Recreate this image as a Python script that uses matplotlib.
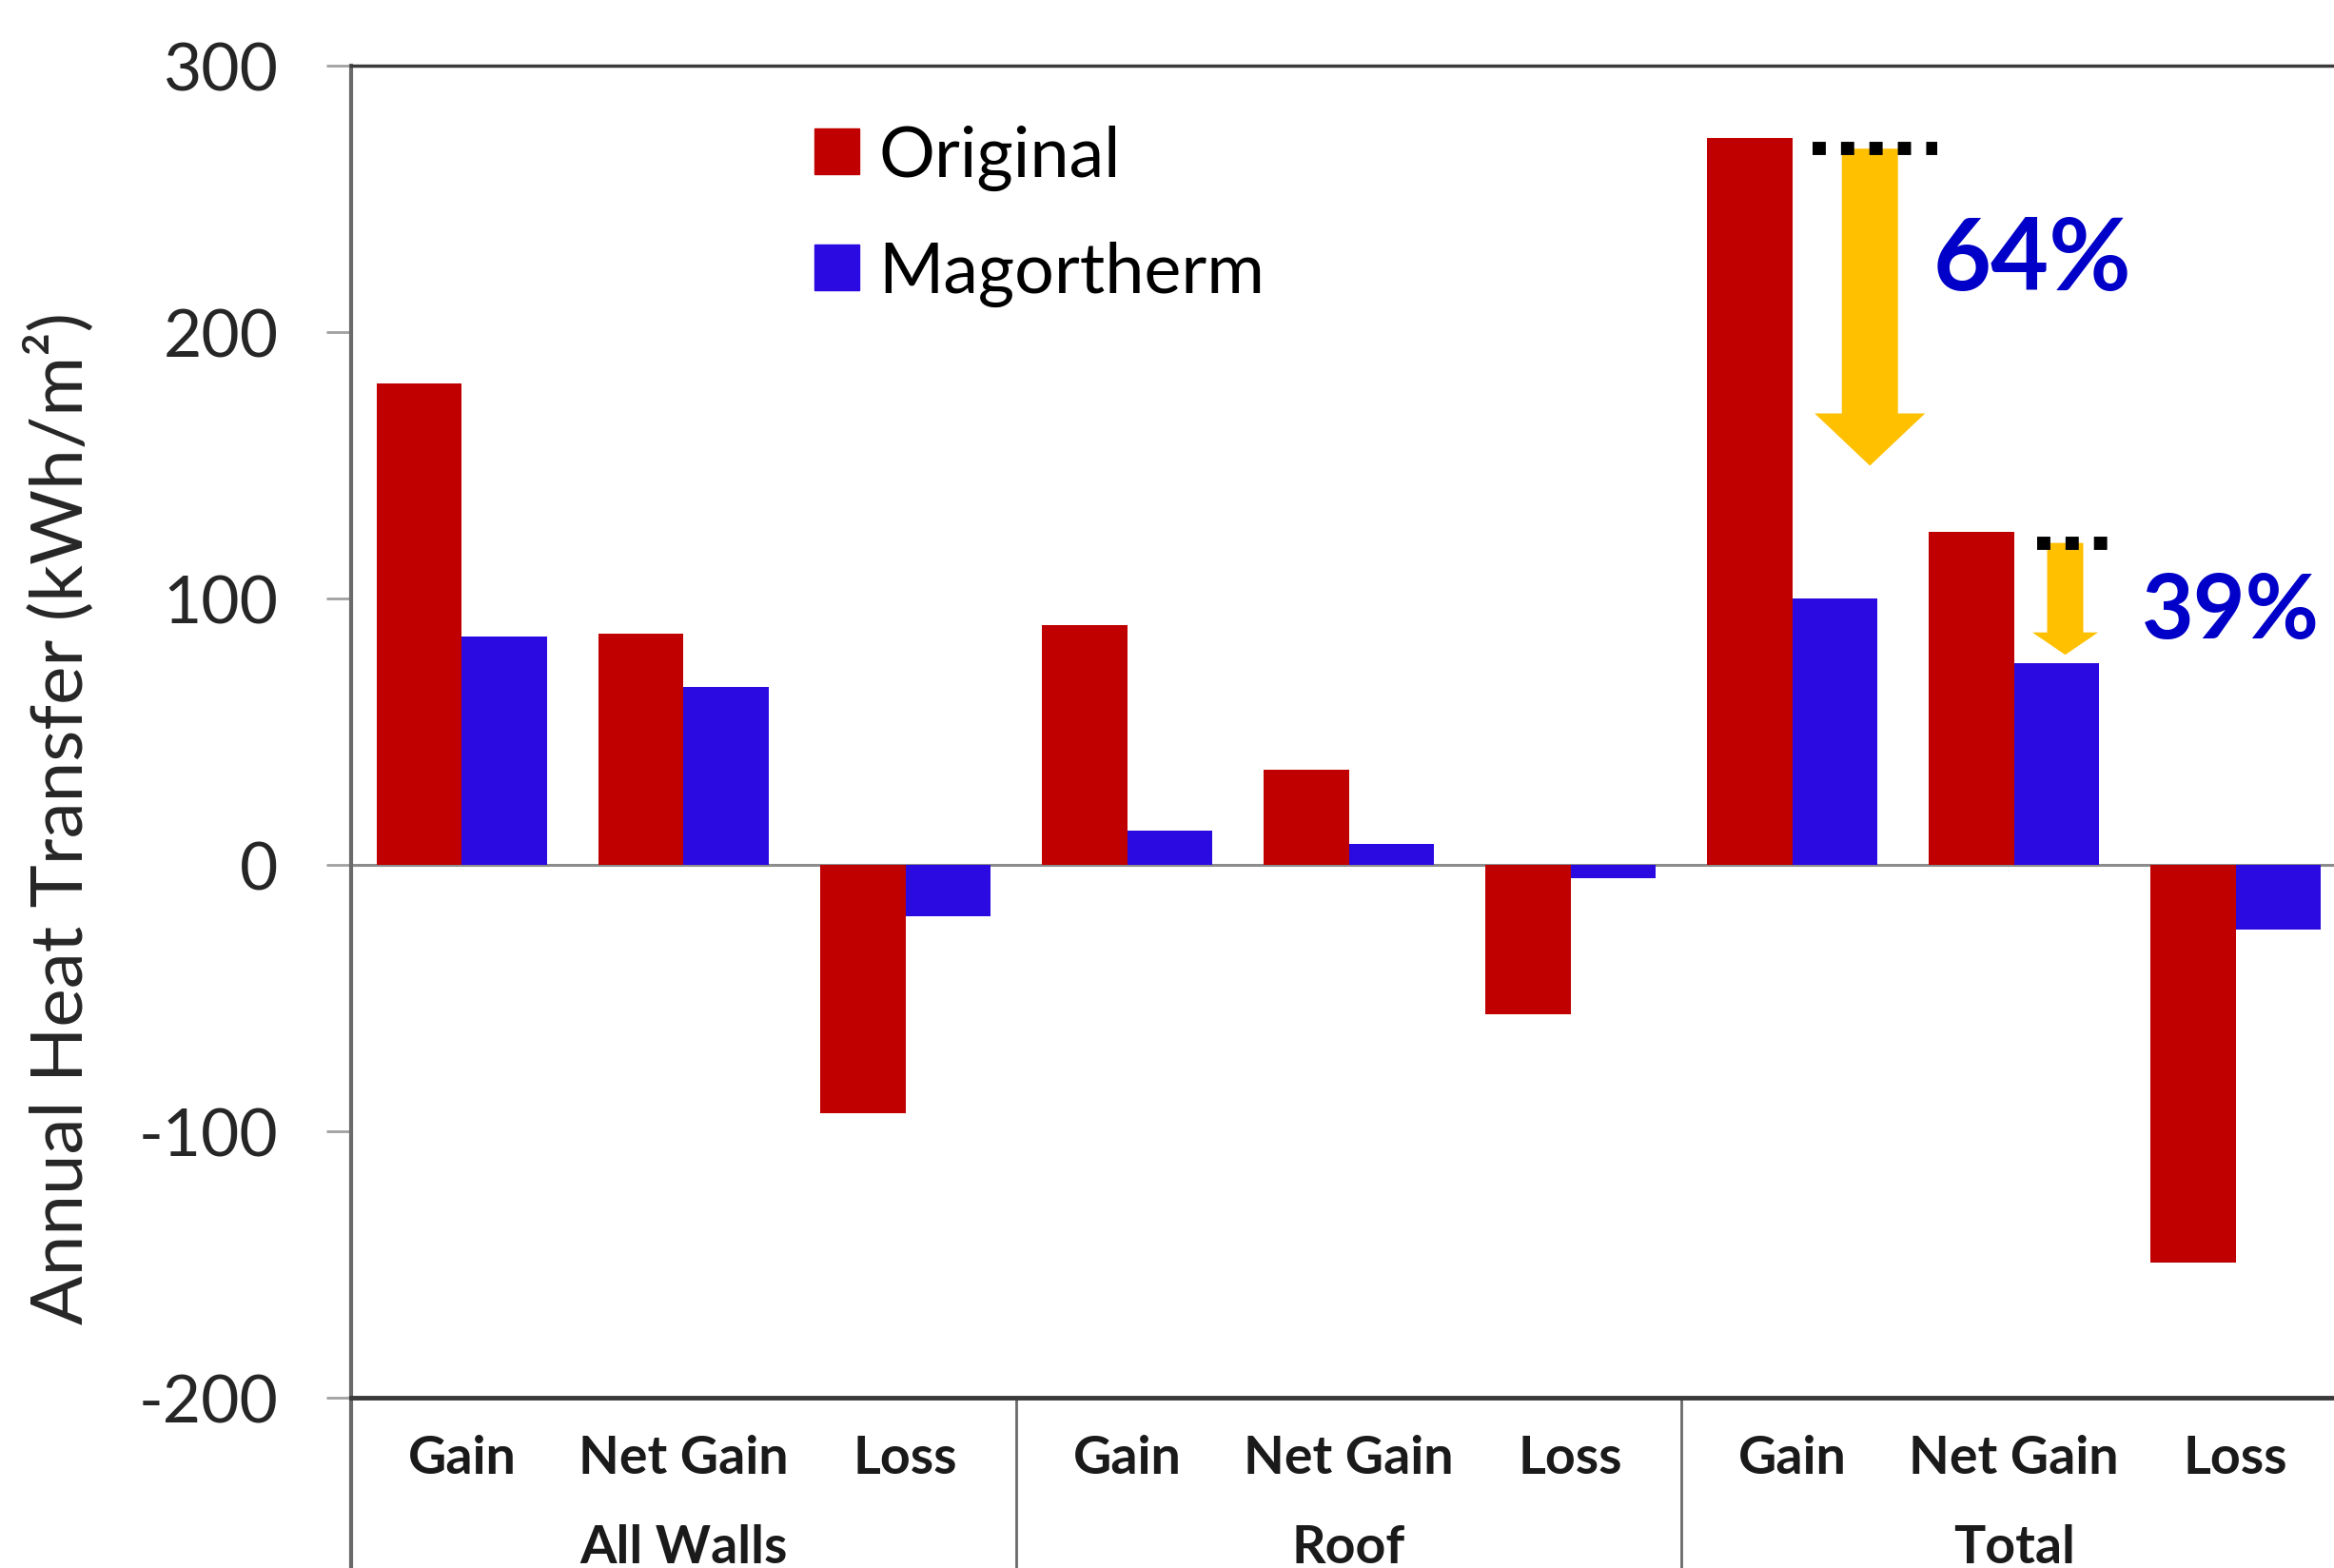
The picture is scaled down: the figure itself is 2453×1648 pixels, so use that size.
import matplotlib
matplotlib.use("Agg")
import matplotlib.pyplot as plt
from matplotlib.patches import Patch, FancyArrow
import matplotlib.transforms as mtransforms
import numpy as np

plt.rcParams['font.family'] = ['Lato', 'DejaVu Sans']
plt.rcParams['axes.unicode_minus'] = False

# data
groups = ["All Walls", "Roof", "Total"]
sub_labels = ["Gain", "Net Gain", "Loss"]
original = [181, 87, -93, 90, 36, -56, 273, 125, -149]
magortherm = [86, 67, -19, 13, 8, -5, 100, 76, -24]
y_ticks = [-200, -100, 0, 100, 200, 300]

red = '#C00000'
blue = '#2A0AE0'
gold = '#FFC000'
txt_blue = '#0000C8'

fig = plt.figure(figsize=(24.53, 16.49), dpi=100)
ax = fig.add_axes([0.1504, 0.1083, 0.855, 0.849])

x = np.arange(len(original))
w = 0.385
ax.bar(x - w / 2, original, w, color=red, label="Original", zorder=3)
ax.bar(x + w / 2, magortherm, w, color=blue, label="Magortherm", zorder=3)
ax.axhline(0, color='#8c8c8c', lw=2.2, zorder=2)

ax.set_xlim(-0.5, len(original) - 0.5)
ax.set_ylim(-200, 300)
ax.set_yticks(y_ticks)
ax.set_yticklabels([str(t) for t in y_ticks])
ax.tick_params(axis='y', direction='out', length=19, width=2, color='#a0a0a0',
               pad=36, labelsize=50, labelcolor='#262626')
ax.set_xticks([])

for s in ['top', 'bottom']:
    ax.spines[s].set_color('#3a3a3a')
ax.spines['top'].set_linewidth(2.5)
ax.spines['bottom'].set_linewidth(3.5)
ax.spines['left'].set_color('#6a6a6a')
ax.spines['left'].set_linewidth(3)
ax.spines['right'].set_visible(False)

# multi-level category axis
trans = mtransforms.blended_transform_factory(ax.transData, ax.transAxes)
for i, v in enumerate(original):
    ax.text(i, -0.045, sub_labels[i % 3], transform=trans, ha='center', va='center',
            fontsize=40, fontweight='bold', color='#1a1a1a')
for g, name in enumerate(groups):
    ax.text(g * 3 + 1, -0.112, name, transform=trans, ha='center', va='center',
            fontsize=40, fontweight='bold', color='#1a1a1a')
for b in [-0.5, 2.5, 5.5]:
    ax.plot([b, b], [0, -0.2], transform=trans, color='#6a6a6a',
            lw=3 if b < 0 else 2, clip_on=False)

fig.text(63 / 2453, 1 - 860 / 1649, "Annual Heat Transfer (kWh/m\u00b2)", rotation=90,
         ha='center', va='center', fontsize=55, color='#262626')

# reduction arrows
big_top, big_tip = 269, 150
ax.add_patch(FancyArrow(6.35, big_top, 0, big_tip - big_top, width=0.253, head_width=0.498,
                        head_length=19.6, length_includes_head=True, color=gold, lw=0, zorder=4))
ax.plot([6.09, 6.654], [big_top, big_top], color='black', lw=10, dashes=(1, 1.15), zorder=5,
        dash_capstyle='butt')
ax.text(6.634, 227, "64%", fontsize=76, fontweight='bold', color=txt_blue, ha='left', va='center')

small_top, small_tip = 121, 79
ax.add_patch(FancyArrow(7.231, small_top, 0, small_tip - small_top, width=0.163, head_width=0.296,
                        head_length=8.4, length_includes_head=True, color=gold, lw=0, zorder=4))
ax.plot([7.104, 7.44], [small_top, small_top], color='black', lw=10, dashes=(1, 1.15), zorder=5,
        dash_capstyle='butt')
ax.text(7.574, 95, "39%", fontsize=68, fontweight='bold', color=txt_blue, ha='left', va='center',
        clip_on=False)

handles = [Patch(color=red), Patch(color=blue)]
ax.legend(handles, ["Original", "Magortherm"], loc='upper left', bbox_to_anchor=(0.349, 0.92),
          bbox_transform=fig.transFigure, frameon=False, fontsize=53, handlelength=0.64,
          handleheight=0.64, handletextpad=0.27, labelspacing=0.72, borderpad=0, borderaxespad=0)

fig.savefig("out.png", dpi=100)
